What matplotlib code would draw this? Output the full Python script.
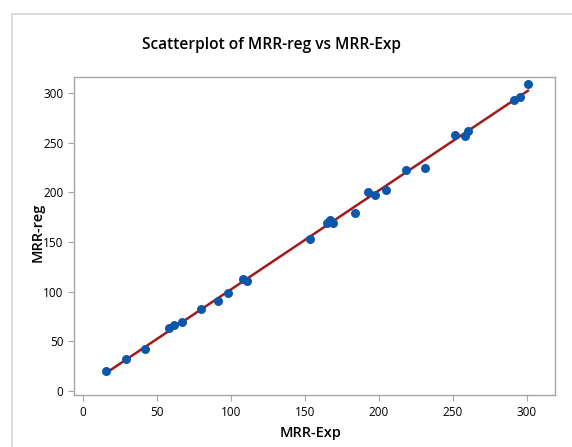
import numpy as np
import matplotlib
matplotlib.use("Agg")
import matplotlib.pyplot as plt
from matplotlib.patches import Rectangle

# data
mrr_exp = [15.7, 29.3, 42.1, 58.5, 61.9, 67.3, 79.9, 91.2, 98.0, 108.5,
           110.8, 153.6, 164.9, 167.1, 168.9, 184.0, 193.0, 197.5, 204.9,
           218.2, 231.5, 251.6, 258.3, 260.1, 291.4, 295.7, 300.9]
mrr_reg = [20.2, 31.7, 42.4, 63.6, 66.0, 69.3, 82.1, 90.5, 98.9, 113.0,
           110.4, 153.4, 168.9, 172.2, 169.5, 179.3, 200.5, 197.8, 202.8,
           222.4, 225.0, 257.7, 257.0, 261.4, 293.6, 296.4, 309.2]
x_ticks = [0, 50, 100, 150, 200, 250, 300]
y_ticks = [0, 50, 100, 150, 200, 250, 300]

plt.rcParams['font.family'] = ['Open Sans', 'DejaVu Sans']

fig = plt.figure(figsize=(5.72, 4.47), dpi=100)
ax = fig.add_axes([74/572, 1 - 395.3/447, (554.7 - 74)/572, (395.3 - 77.3)/447])

# outer frame
fig.patches.append(Rectangle((12/572, -0.1), 1.2, 1 - 14/447 + 0.1,
                             transform=fig.transFigure, fill=False,
                             edgecolor="#d9d9d9", linewidth=1.3))

# regression line
b, a = np.polyfit(mrr_exp, mrr_reg, 1)
xl = np.array([min(mrr_exp), max(mrr_exp)])
ax.plot(xl, a + b*xl, color="#a31a1a", linewidth=1.8, zorder=2)
ax.scatter(mrr_exp, mrr_reg, s=42, color="#0b57aa", zorder=3, linewidths=0)

ax.set_xlim(-6, 319)
ax.set_ylim(-4.6, 316)
ax.set_xticks(x_ticks)
ax.set_yticks(y_ticks)
for s in ax.spines.values():
    s.set_color("#a6a6a6")
    s.set_linewidth(1.0)
ax.tick_params(colors="#a6a6a6", labelcolor="black", length=4, width=0.8,
               labelsize=8.5)

fig.text(271/572, 1 - 45/447, "Scatterplot of MRR-reg vs MRR-Exp",
         ha="center", va="center", fontsize=11.2, fontweight="semibold")
fig.text(311/572, 1 - 433/447, "MRR-Exp", ha="center", va="center",
         fontsize=10.5, fontweight="semibold")
fig.text(38/572, 1 - 232/447, "MRR-reg", ha="center", va="center",
         rotation=90, fontsize=10.5, fontweight="semibold")

fig.savefig("out.png", dpi=100)
